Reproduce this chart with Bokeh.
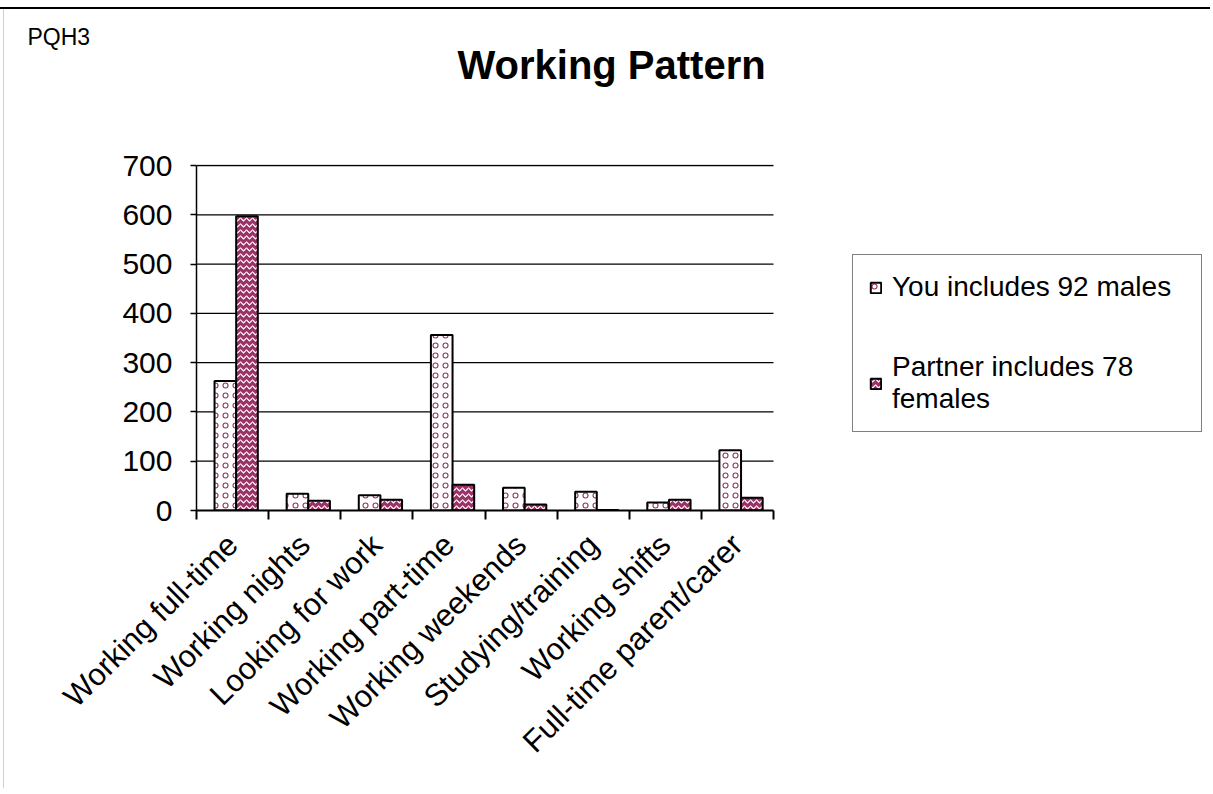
from bokeh.plotting import figure
from bokeh.models import (Range1d, FixedTicker, Legend, LegendItem, Title,
                          ColumnDataSource)
from bokeh.transform import dodge
from bokeh.embed import file_html
from bokeh.resources import INLINE

categories = ["Working full-time", "Working nights", "Looking for work",
              "Working part-time", "Working weekends", "Studying/training",
              "Working shifts", "Full-time parent/carer"]
you_values = [263, 34, 31, 356, 46, 38, 16, 122]
partner_values = [597, 20, 22, 52, 12, 1, 22, 26]
y_ticks = [0, 100, 200, 300, 400, 500, 600, 700]
series_names = ["You includes 92 males", "Partner includes 78\nfemales"]

FONT = "Liberation Sans"
MAGENTA = "#993366"

W, H = 1210, 788
F_LEFT, F_TOP, F_BOTTOM = 196, 165, 510
AXIS_RIGHT = 773      # where the category axis ends
F_RIGHT = W           # frame extends right so the legend sits inside it

n = len(categories)
x_end = n * (F_RIGHT - F_LEFT) / (AXIS_RIGHT - F_LEFT)
y_end = 700 * 346 / 345
centers = [i + 0.5 for i in range(n)]
src = ColumnDataSource(dict(x=centers, you=you_values, partner=partner_values))
grid_src = ColumnDataSource(dict(y=y_ticks[1:], x0=[0] * (len(y_ticks) - 1),
                                 x1=[n] * (len(y_ticks) - 1)))

p = figure(width=W, height=H, output_backend="svg", toolbar_location=None,
           x_range=Range1d(0, x_end), y_range=Range1d(0, y_end),
           min_border_left=F_LEFT, min_border_right=W - F_RIGHT,
           min_border_top=F_TOP - 1, min_border_bottom=H - F_BOTTOM,
           background_fill_color="white", border_fill_color="white",
           border_fill_alpha=0, title="PQH3")
p.outline_line_color = None
p.styles = {
    "background-color": "#ffffff",
    "background-image": "linear-gradient(#000000, #000000), linear-gradient(#d0d0d0, #d0d0d0)",
    "background-size": "100% 2px, 1px 100%",
    "background-position": "0px 7px, 3px 8px",
    "background-repeat": "no-repeat, no-repeat",
}

# corner label (outermost title)
p.title.text_font = FONT
p.title.text_font_size = "23px"
p.title.text_font_style = "normal"
p.title.text_color = "black"
p.title.align = "left"
p.title.offset = 27 - F_LEFT
p.title.vertical_align = "bottom"
p.title.standoff = -16

# horizontal gridlines limited to the category axis
p.segment(x0="x0", x1="x1", y0="y", y1="y", source=grid_src,
          line_color="black", line_width=1.3)

r_you = p.vbar(x=dodge("x", -0.10, range=p.x_range), top="you", width=0.30,
               source=src, fill_color="white", line_color="black", line_width=2,
               hatch_pattern="ring", hatch_color=MAGENTA, hatch_scale=10,
               hatch_weight=1.1)
r_partner = p.vbar(x=dodge("x", 0.20, range=p.x_range), top="partner", width=0.30,
                   source=src, fill_color=MAGENTA, line_color="black", line_width=2,
                   hatch_pattern="horizontal_wave", hatch_color="white",
                   hatch_scale=6, hatch_weight=1.2)

# spacer between frame and main title, then the main title
spacer = Title(text=" ", text_font_size="1px", standoff=74)
p.add_layout(spacer, "above")
main_title = Title(text="Working Pattern", text_font=FONT, text_font_size="40px",
                   text_font_style="bold", align="left", offset=457 - F_LEFT,
                   vertical_align="middle", standoff=0, text_color="black")
p.add_layout(main_title, "above")

# axes
p.xgrid.grid_line_color = None
p.ygrid.grid_line_color = None
p.yaxis.ticker = FixedTicker(ticks=y_ticks)
p.yaxis.bounds = (0, 700)
p.yaxis.major_label_text_font = FONT
p.yaxis.major_label_text_font_size = "30px"
p.yaxis.major_label_text_color = "black"
p.yaxis.axis_line_color = "black"
p.yaxis.axis_line_width = 1.5
p.yaxis.major_tick_out = 6
p.yaxis.major_tick_in = 0
p.yaxis.major_tick_line_width = 1.3
p.yaxis.minor_tick_line_color = None
p.yaxis.major_label_standoff = 18

p.xaxis.bounds = (0, n)
p.xaxis.ticker = FixedTicker(ticks=centers, minor_ticks=list(range(n + 1)))
p.xaxis.major_label_overrides = {c: lab for c, lab in zip(centers, categories)}
p.xaxis.major_tick_out = 0
p.xaxis.major_tick_in = 0
p.xaxis.minor_tick_out = 9
p.xaxis.minor_tick_in = 0
p.xaxis.minor_tick_line_color = "black"
p.xaxis.minor_tick_line_width = 2
p.xaxis.axis_line_color = "black"
p.xaxis.axis_line_width = 2
p.xaxis.major_label_orientation = 0.78
p.xaxis.major_label_text_font = FONT
p.xaxis.major_label_text_font_size = "31px"
p.xaxis.major_label_text_color = "black"
p.xaxis.major_label_standoff = 20

# legend (inside the widened frame, right of the bars)
legend = Legend(items=[LegendItem(label=series_names[0], renderers=[r_you]),
                       LegendItem(label=series_names[1], renderers=[r_partner])],
                location=(852 - F_LEFT, F_BOTTOM - 432), orientation="vertical")
legend.label_text_font = FONT
legend.label_text_font_size = "28px"
legend.label_text_color = "black"
legend.glyph_width = 13
legend.glyph_height = 13
legend.label_standoff = 10
legend.label_width = 293
legend.spacing = 48
legend.padding = 16
legend.margin = 0
legend.border_line_color = "black"
legend.border_line_width = 1.5
legend.background_fill_color = "white"
legend.background_fill_alpha = 1
p.add_layout(legend, "center")

open("out.html", "w").write(file_html(p, INLINE))
